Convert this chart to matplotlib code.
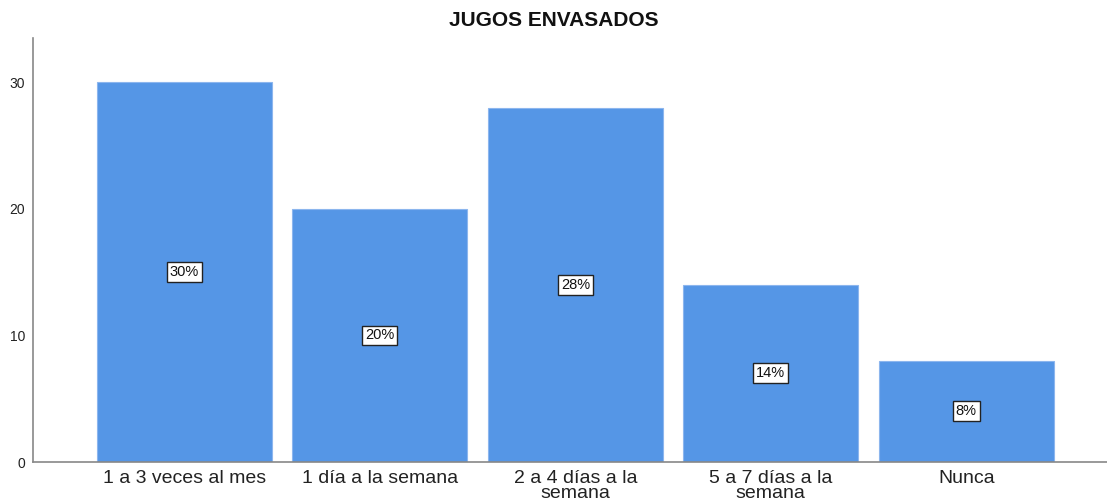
import matplotlib
matplotlib.use("Agg")
import matplotlib.pyplot as plt

categories = ["1 a 3 veces al mes", "1 día a la semana", "2 a 4 días a la\nsemana",
              "5 a 7 días a la\nsemana", "Nunca"]
values = [30, 20, 28, 14, 8]
pct_labels = ["30%", "20%", "28%", "14%", "8%"]
yticks = [0, 10, 20, 30]

plt.rcParams['font.family'] = ['Liberation Sans', 'DejaVu Sans']

fig = plt.figure(figsize=(11.07, 5.04), dpi=100)
ax = fig.add_axes([33/1107, 1 - 462/504, (1107-33)/1107, (462-38)/504])

x = list(range(len(categories)))
ax.bar(x, values, width=0.895, color="#5596e6", edgecolor="#8cb6ee", linewidth=0.8)
for xi, v, lab in zip(x, values, pct_labels):
    ax.text(xi, v / 2, lab, ha="center", va="center", fontsize=10.5, color="#111111",
            bbox=dict(boxstyle="square,pad=0.2", facecolor="white", edgecolor="#222222", linewidth=1))

ax.set_xlim(-0.775, 4.72)
ax.set_ylim(0, 33.5)
ax.set_yticks(yticks)
ax.set_xticks(x)
ax.set_xticklabels(categories, fontsize=14, color="#222222", linespacing=0.8)
ax.tick_params(axis="y", length=0, labelsize=10, pad=5.5, colors="#222222")
ax.tick_params(axis="x", length=0, pad=6)
for s in ["top", "right"]:
    ax.spines[s].set_visible(False)
for s in ["left", "bottom"]:
    ax.spines[s].set_color("#888888")
    ax.spines[s].set_linewidth(1.2)

fig.text(0.5, 1 - 20/504, "JUGOS ENVASADOS", ha="center", va="center",
         fontsize=15, fontweight="bold", color="#111111")

fig.savefig("out.png", dpi=100)
